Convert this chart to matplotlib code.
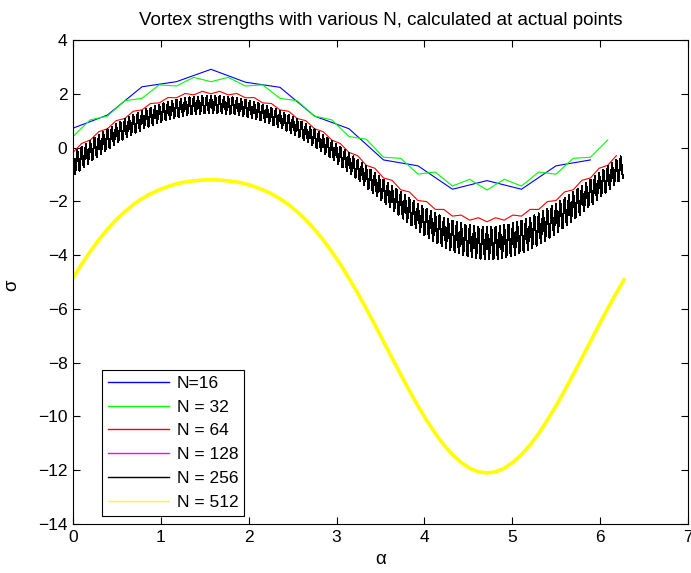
import numpy as np
import matplotlib
matplotlib.use("Agg")
import matplotlib.pyplot as plt

plt.rcParams["font.family"] = ["Liberation Sans", "DejaVu Sans"]

# sigma, one value per panel point (alpha_k = 2*pi*k/N)
n16 = [0.72, 1.21, 2.26, 2.45, 2.91, 2.43, 2.24, 1.17,
       0.70, -0.46, -0.68, -1.55, -1.23, -1.55, -0.68, -0.46]

n32 = [0.41, 1.03, 1.17, 1.74, 1.83, 2.33, 2.29, 2.61,
       2.45, 2.61, 2.29, 2.33, 1.83, 1.74, 1.17, 1.03,
       0.41, 0.31, -0.36, -0.40, -0.99, -0.91, -1.43, -1.18,
       -1.58, -1.18, -1.43, -0.91, -0.99, -0.40, -0.36, 0.28]

n64 = [-0.18, 0.15, 0.28, 0.59, 0.70, 1.00, 1.08, 1.35,
       1.40, 1.64, 1.66, 1.86, 1.85, 2.01, 1.96, 2.09,
       2.00, 2.09, 1.96, 2.01, 1.85, 1.86, 1.66, 1.64,
       1.40, 1.35, 1.08, 1.00, 0.70, 0.59, 0.28, 0.15,
       -0.18, -0.30, -0.66, -0.77, -1.13, -1.22, -1.57, -1.65,
       -1.97, -2.01, -2.30, -2.30, -2.55, -2.51, -2.70, -2.61,
       -2.76, -2.61, -2.70, -2.51, -2.55, -2.30, -2.30, -2.01,
       -1.97, -1.65, -1.57, -1.22, -1.13, -0.77, -0.66, -0.30]

# N=256 flips between two levels from point to point: even / odd points
n256_even = [-0.21, -0.09, 0.03, 0.14, 0.25, 0.36, 0.47, 0.58, 0.68, 0.78, 0.87,
             0.96, 1.05, 1.13, 1.21, 1.29, 1.36, 1.43, 1.49, 1.55, 1.60, 1.65,
             1.70, 1.74, 1.78, 1.81, 1.84, 1.87, 1.89, 1.90, 1.91, 1.92, 1.92,
             1.92, 1.91, 1.90, 1.89, 1.87, 1.84, 1.81, 1.78, 1.74, 1.70, 1.65,
             1.60, 1.55, 1.49, 1.43, 1.36, 1.29, 1.21, 1.13, 1.05, 0.96, 0.87,
             0.78, 0.68, 0.58, 0.47, 0.36, 0.25, 0.14, 0.03, -0.09, -0.21,
             -0.33, -0.45, -0.57, -0.70, -0.82, -0.94, -1.07, -1.19, -1.31, -1.43,
             -1.54, -1.66, -1.77, -1.88, -1.98, -2.08, -2.18, -2.28, -2.36, -2.45,
             -2.52, -2.60, -2.66, -2.72, -2.77, -2.82, -2.86, -2.89, -2.92, -2.94,
             -2.95, -2.95,
             -2.95, -2.94, -2.92, -2.89, -2.86, -2.82, -2.77, -2.72, -2.66, -2.60,
             -2.52, -2.45, -2.36, -2.28, -2.18, -2.08, -1.98, -1.88, -1.77, -1.66,
             -1.54, -1.43, -1.31, -1.19, -1.07, -0.94, -0.82, -0.70, -0.57, -0.45,
             -0.33]
n256_odd = [-0.99, -0.86, -0.73, -0.60, -0.48, -0.36, -0.24, -0.13, -0.02, 0.09, 0.19,
            0.29, 0.38, 0.47, 0.55, 0.63, 0.71, 0.78, 0.84, 0.90, 0.96, 1.01,
            1.06, 1.10, 1.14, 1.17, 1.20, 1.23, 1.25, 1.26, 1.27, 1.28, 1.28,
            1.28, 1.27, 1.26, 1.25, 1.23, 1.20, 1.17, 1.14, 1.10, 1.06, 1.01,
            0.96, 0.90, 0.84, 0.78, 0.71, 0.63, 0.55, 0.47, 0.38, 0.29, 0.19,
            0.09, -0.02, -0.13, -0.24, -0.36, -0.48, -0.60, -0.73, -0.86, -0.99,
            -1.12, -1.26, -1.40, -1.54, -1.68, -1.82, -1.96, -2.09, -2.23, -2.37,
            -2.50, -2.64, -2.77, -2.89, -3.01, -3.13, -3.25, -3.36, -3.46, -3.56,
            -3.65, -3.73, -3.81, -3.88, -3.94, -4.00, -4.04, -4.08, -4.11, -4.13,
            -4.15, -4.15,
            -4.15, -4.13, -4.11, -4.08, -4.04, -4.00, -3.94, -3.88, -3.81, -3.73,
            -3.65, -3.56, -3.46, -3.36, -3.25, -3.13, -3.01, -2.89, -2.77, -2.64,
            -2.50, -2.37, -2.23, -2.09, -1.96, -1.82, -1.68, -1.54, -1.40, -1.26,
            -1.12]

# N=512 is smooth; read every 16th point (alpha step pi/32)
n512 = [-4.86, -4.34, -3.87, -3.43, -3.04, -2.69, -2.39, -2.12, -1.90,
        -1.72, -1.57, -1.45, -1.35, -1.28, -1.24, -1.21, -1.20,
        -1.21, -1.24, -1.28, -1.35, -1.45, -1.57, -1.72, -1.90,
        -2.12, -2.39, -2.69, -3.04, -3.43, -3.87, -4.34, -4.86,
        -5.41, -5.99, -6.59, -7.21, -7.83, -8.44, -9.04, -9.61,
        -10.14, -10.63, -11.06, -11.42, -11.71, -11.93, -12.06, -12.10,
        -12.06, -11.93, -11.71, -11.42, -11.06, -10.63, -10.14, -9.61,
        -9.04, -8.44, -7.83, -7.21, -6.59, -5.99, -5.41, -4.86]

labels = ["N=16", "N = 32", "N = 64", "N = 128", "N = 256", "N = 512"]
colors = ["#0000ff", "#00ff00", "#ff0000", "#ff00ff", "#000000", "#ffff00"]


def panel_angles(n):
    return 2 * np.pi * np.arange(n) / n


n256 = np.empty(256)
n256[0::2] = n256_even
n256[1::2] = n256_odd

fig = plt.figure(figsize=(6.91, 5.73), dpi=100)
ax = fig.add_axes([0.1056, 0.0855, 0.890, 0.8447])

ax.plot(panel_angles(16), n16, color=colors[0], lw=0.8, label=labels[0])
ax.plot(panel_angles(32), n32, color=colors[1], lw=0.8, label=labels[1])
ax.plot(panel_angles(64), n64, color=colors[2], lw=0.8, label=labels[2])
# N=128 sits completely underneath the N=256 band
ax.plot(panel_angles(256), n256, color=colors[3], lw=0.75, label=labels[3],
        antialiased=False)
ax.plot(panel_angles(256), n256, color=colors[4], lw=0.75, label=labels[4],
        antialiased=False)
ax.plot(np.linspace(0, 2 * np.pi, len(n512)), n512, color=colors[5], lw=2.6,
        label=labels[5], solid_capstyle="butt")

ax.set_xlim(0, 7)
ax.set_ylim(-14, 4)
ax.set_xticks(range(0, 8))
ax.set_yticks(range(-14, 5, 2))
ax.tick_params(direction="in", top=True, right=True, length=5, width=0.8,
               labelsize=12.5, pad=4)
for sp in ax.spines.values():
    sp.set_linewidth(0.8)

ax.set_title("Vortex strengths with various N, calculated at actual points",
             fontsize=13.5, pad=11)
ax.set_xlabel("\u03b1", fontsize=13.5)
ax.xaxis.set_label_coords(0.5, -0.055)
ax.set_ylabel("\u03c3", fontsize=13.5)
ax.yaxis.set_label_coords(-0.085, 0.494)

leg = ax.legend(loc="lower left", bbox_to_anchor=(0.047, 0.0165), fontsize=12.5,
                frameon=True, fancybox=False, framealpha=1, edgecolor="black",
                handlelength=3.5, handletextpad=0.45, labelspacing=0.5,
                borderpad=0.35, borderaxespad=0)
leg.get_frame().set_linewidth(0.8)
for line in leg.get_lines():
    line.set_linewidth(1.0)
    line.set_antialiased(True)

fig.savefig("out.png", dpi=100)
